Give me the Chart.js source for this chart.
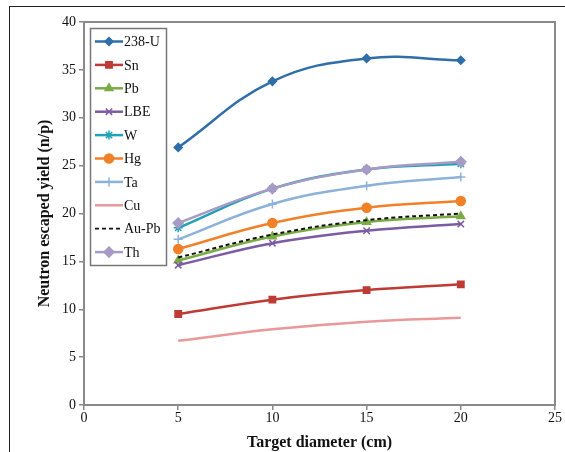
<!DOCTYPE html>
<html>
<head>
<meta charset="utf-8">
<script src="https://cdn.jsdelivr.net/npm/chart.js@4"></script>
<style>
html,body{margin:0;padding:0;background:#fff;overflow:hidden;width:565px;height:452px;}
#wrap{position:absolute;left:0;top:0;width:565px;height:452px;}
#frame{position:absolute;left:9px;top:6px;width:700px;height:600px;border:1.5px solid #222;pointer-events:none;}
</style>
</head>
<body>
<div id="frame"></div>
<div id="wrap"><canvas id="c" width="565" height="452"></canvas></div>
<script>
const diameters = [5, 10, 15, 20];
const seriesNames = ['238-U','Sn','Pb','LBE','W','Hg','Ta','Cu','Au-Pb','Th'];
const u238 = [26.9, 33.8, 36.2, 36.0];
const sn   = [9.5, 11.0, 12.0, 12.6];
const pb   = [15.1, 17.6, 19.1, 19.7];
const lbe  = [14.6, 16.9, 18.2, 18.9];
const w    = [18.5, 22.6, 24.6, 25.2];
const hg   = [16.3, 19.0, 20.6, 21.3];
const ta   = [17.3, 21.0, 22.9, 23.8];
const cu   = [6.7, 7.9, 8.7, 9.1];
const aupb = [15.4, 17.8, 19.3, 20.0];
const th   = [19.0, 22.6, 24.6, 25.4];
const xTicks = [0, 5, 10, 15, 20, 25];
const yTicks = [0, 5, 10, 15, 20, 25, 30, 35, 40];

const values = [u238, sn, pb, lbe, w, hg, ta, cu, aupb, th];
const styles = [
  {color:'#2f6ea8', point:'rectRot', r:4},
  {color:'#be3b35', point:'rect', r:4.5},
  {color:'#7aac46', point:'triangle', r:4.5},
  {color:'#7b5ba3', point:'crossRot', r:4.5},
  {color:'#22a1b6', point:'star', r:4.5},
  {color:'#f08128', point:'circle', r:4.5},
  {color:'#8eb1da', point:'cross', r:4.5},
  {color:'#e8999a', point:false, r:0},
  {color:'#111111', point:false, r:0, dash:[4,3]},
  {color:'#a79bc6', point:'rectRot', r:5}
];

const datasets = seriesNames.map((name, i) => ({
  label: name,
  data: diameters.map((d, j) => ({x: d, y: values[i][j]})),
  borderColor: styles[i].color,
  backgroundColor: styles[i].color,
  pointBackgroundColor: styles[i].color,
  pointBorderColor: styles[i].color,
  pointStyle: styles[i].point,
  pointRadius: styles[i].r,
  pointBorderWidth: 1.5,
  borderWidth: i === 8 ? 2 : 2.5,
  borderDash: styles[i].dash || [],
  tension: 0.4,
  fill: false,
  order: 10 - i
}));

const serif = '"Liberation Serif", "DejaVu Serif", serif';

const framePlugin = {
  id: 'plotFrame',
  afterDraw(chart) {
    const ctx = chart.ctx, a = chart.chartArea;
    ctx.save();
    ctx.strokeStyle = '#8a8a8a';
    ctx.lineWidth = 2;
    ctx.strokeRect(a.left, a.top, a.right - a.left, a.bottom - a.top);
    // legend
    const bx = 90.5, by = 28.5, bw = 76, bh = 237;
    ctx.fillStyle = '#fff';
    ctx.fillRect(bx, by, bw, bh);
    ctx.strokeStyle = '#777';
    ctx.lineWidth = 1.5;
    ctx.strokeRect(bx, by, bw, bh);
    ctx.font = '14px ' + serif;
    ctx.textBaseline = 'middle';
    seriesNames.forEach((name, i) => {
      const y = 41.5 + i * 23.4;
      const st = styles[i];
      ctx.save();
      ctx.strokeStyle = st.color;
      ctx.lineWidth = i === 8 ? 1.8 : 2.5;
      ctx.setLineDash(st.dash || []);
      ctx.beginPath();
      ctx.moveTo(95, y);
      ctx.lineTo(123, y);
      ctx.stroke();
      ctx.restore();
      if (st.point) {
        ctx.save();
        ctx.fillStyle = st.color;
        ctx.strokeStyle = st.color;
        ctx.lineWidth = 1.5;
        Chart.helpers.drawPoint(ctx, {pointStyle: st.point, radius: st.r, rotation: 0, borderWidth: 1.5}, 109, y);
        ctx.restore();
      }
      ctx.fillStyle = '#111';
      ctx.fillText(name, 124, y + 1);
    });
    ctx.restore();
  }
};

new Chart(document.getElementById('c'), {
  type: 'line',
  data: { datasets },
  options: {
    responsive: false,
    animation: false,
    devicePixelRatio: 1,
    layout: { padding: { left: 0, top: 22, right: 10, bottom: 0 } },
    plugins: { legend: { display: false }, tooltip: { enabled: false } },
    scales: {
      x: {
        type: 'linear',
        min: 0, max: 25,
        afterBuildTicks(s) { s.ticks = xTicks.map(v => ({value: v})); },
        afterFit(s) { s.height = 47; },
        grid: { drawOnChartArea: false, drawTicks: true, tickLength: 5, color: '#888', lineWidth: 1.5 },
        border: { display: true, color: '#888', width: 2 },
        ticks: { color: '#111', font: { family: serif, size: 14 }, padding: 0, maxRotation: 0 },
        title: { display: true, text: 'Target diameter (cm)', color: '#111', font: { family: serif, size: 16, weight: 'bold' }, padding: { top: 4, bottom: 0 } }
      },
      y: {
        type: 'linear',
        min: 0, max: 40,
        afterBuildTicks(s) { s.ticks = yTicks.map(v => ({value: v})); },
        afterFit(s) { s.width = 84; },
        grid: { drawOnChartArea: false, drawTicks: true, tickLength: 5, color: '#888', lineWidth: 1.5 },
        border: { display: true, color: '#888', width: 2 },
        ticks: { color: '#111', font: { family: serif, size: 14 }, padding: 3 },
        title: { display: true, text: 'Neutron escaped yield (n/p)', color: '#111', font: { family: serif, size: 16, weight: 'bold' }, padding: { top: 35, bottom: 6 } }
      }
    }
  },
  plugins: [framePlugin]
});
</script>
</body>
</html>
